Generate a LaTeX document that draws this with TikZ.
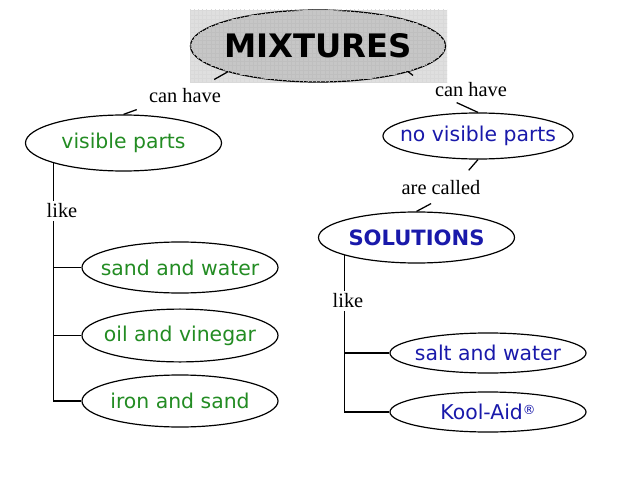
\documentclass[tikz,border=0pt]{standalone}
\usepackage{fontspec}
\setmainfont{Liberation Serif}
\newfontfamily\verd{DejaVu Sans}
\usepackage{tikz}
\usetikzlibrary{shapes.geometric,
calc,
patterns
}
\definecolor{mixgreen}{RGB}{35,140,35}
\definecolor{solblue}{RGB}{25,25,170}
\tikzset{
  ell/.style={draw, ellipse, line width=0.85pt, inner sep=0pt,
    minimum width=4.9cm, minimum height=1.3cm},
  gtxt/.style={text=mixgreen, font=\verd\fontsize{14.5}{17}\selectfont},
  btxt/.style={text=solblue, font=\verd\fontsize{14.5}{17}\selectfont},
  lbl/.style={font=\fontsize{14.5}{17}\selectfont, inner sep=2pt},
  conn/.style={line width=0.9pt}
}

\begin{document}
\begin{tikzpicture}[x=0.025cm, y=-0.025cm]
            \useasboundingbox (0,0) rectangle (638,479);

            % grey halo behind the title
            \fill[gray!25] (190,10) rectangle (447,83);
            \fill[pattern=grid, pattern color=gray!30] (190,10) rectangle (447,83);

            \node[ell, fill=gray!45, minimum width=6.375cm, minimum height=1.8cm,
              postaction={pattern=grid, pattern color=gray!50},
              label={[font=\verd\bfseries\fontsize{23}{26}\selectfont]center:MIXTURES}]
              (mix) at (318,46) {};

            \node[ell, minimum height=1.4cm, label={[gtxt]center:visible parts}] (vis) at (123.5,143) {};
            \node[ell, minimum width=4.75cm, minimum height=1.15cm,
              label={[btxt]center:no visible parts}] (nv) at (478,136) {};
            \node[ell, minimum height=1.275cm,
              label={[btxt, font=\verd\bfseries\fontsize{15}{18}\selectfont]center:SOLUTIONS}] (sol) at (416.5,237.5) {};

            \node[ell, minimum height=1.275cm, label={[gtxt]center:sand and water}] (sw) at (180,267.5) {};
            \node[ell, minimum height=1.32cm, label={[gtxt]center:oil and vinegar}] (oil) at (180,335.5) {};
            \node[ell, minimum height=1.3cm, label={[gtxt]center:iron and sand}] (iron) at (180,401) {};

            \node[ell, minimum height=1.0cm, label={[btxt]center:salt and water}] (salt) at (488,353) {};
            \node[ell, minimum height=1.0cm,
              label={[btxt]center:Kool-Aid\raisebox{0.5ex}{\fontsize{9}{9}\selectfont ®}}] (kool) at (488,412) {};

            \node[lbl] (canL) at (185,96) {can have};
            \node[lbl] (canR) at (471,90) {can have};
            \node[lbl] (are) at (441,188) {are called};
            \node[lbl] (likeL) at (62,211) {like};
            \node[lbl] (likeR) at (348,301) {like};

            \draw[conn, shorten >=9pt] (mix.196) -- (canL);
            \draw[conn, shorten >=17pt] (mix.344) -- (canR.west);
            \draw[conn, shorten >=7pt] (vis.north) -- (canL.south west);
            \draw[conn, shorten >=4pt] (nv.north) -- ($(canR.south west)!0.5!(canR.south)$);
            \draw[conn, shorten >=7pt] (nv.south) -- ($(are.north)!0.5!(are.north east)$);
            \draw[conn, shorten >=8pt] (sol.north) -- (are.south);

            \draw[conn] (vis.196) -- (vis.196 |- likeL.north);
            \draw[conn] (vis.196 |- likeL.south) |- (iron.west);
            \draw[conn] (sw.west -| vis.196) -- (sw.west);
            \draw[conn] (oil.west -| vis.196) -- (oil.west);

            \draw[conn] (sol.194.5) -- (sol.194.5 |- likeR.north);
            \draw[conn] (sol.194.5 |- likeR.south) |- (kool.west);
            \draw[conn] (salt.west -| sol.194.5) -- (salt.west);
\end{tikzpicture}
\end{document}
